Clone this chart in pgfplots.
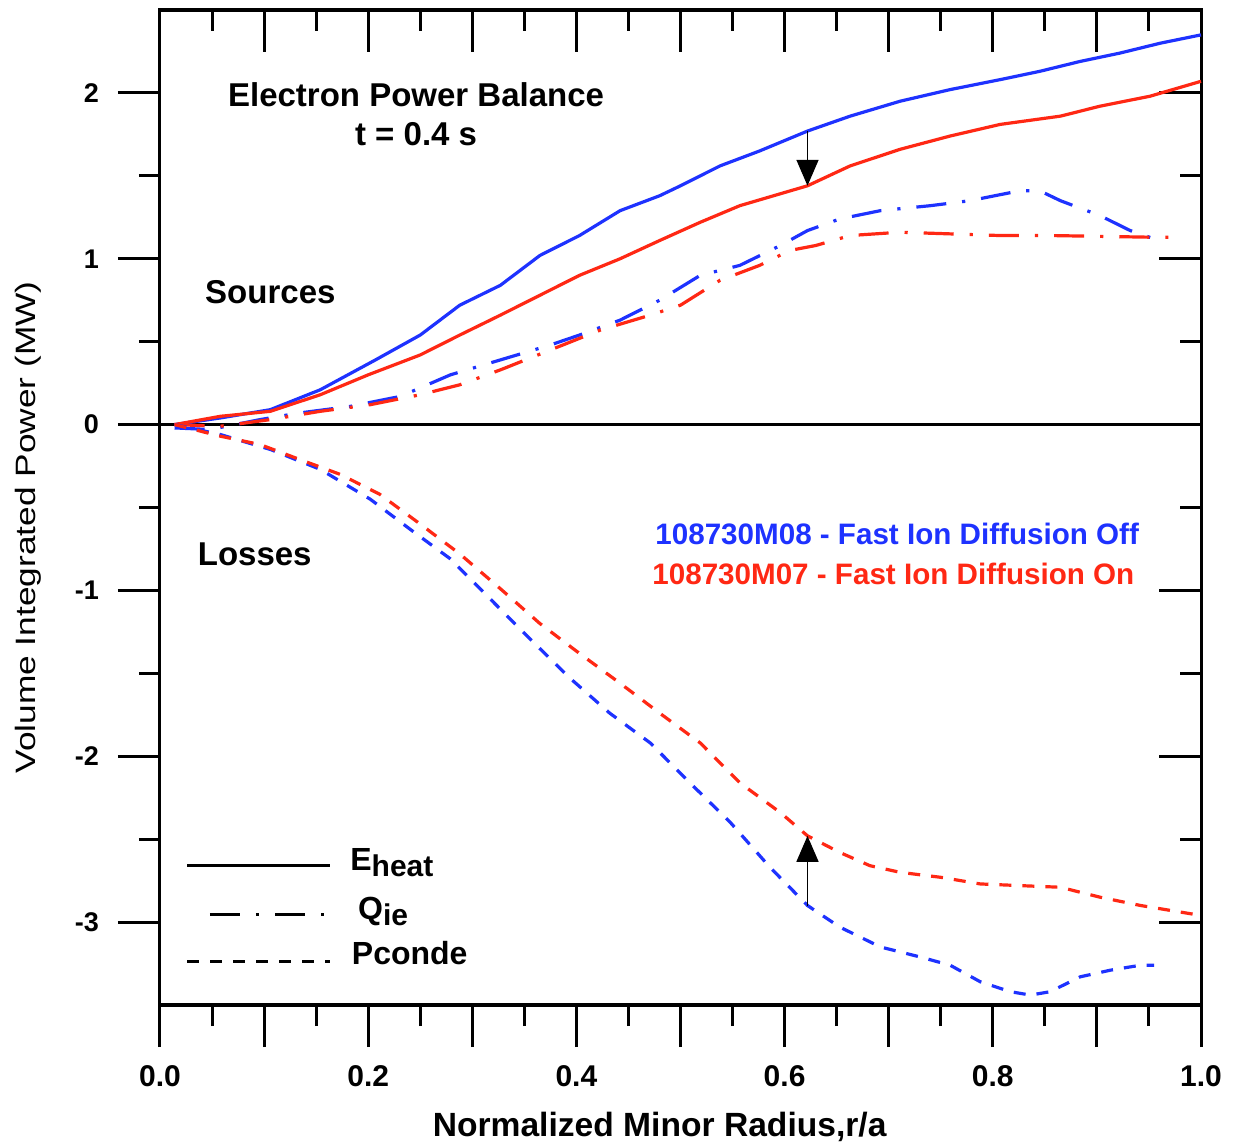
\documentclass[border=0pt]{standalone}
\usepackage{pgfplots}
\pgfplotsset{compat=1.18}
\usepackage{fontspec}
\setmainfont{Liberation Sans}
\usetikzlibrary{arrows.meta}

\definecolor{offblue}{RGB}{30,50,255}
\definecolor{onred}{RGB}{255,40,20}

\tikzset{
  pcond/.style={line width=1.6pt, dash pattern=on 6pt off 5.5pt},
  qie/.style={line width=1.6pt, dash pattern=on 15pt off 8pt on 1.6pt off 8pt},
  eheat/.style={line width=1.6pt},
}

\pgfplotsset{
  frame/.style={
    scale only axis, width=520.5pt, height=497.5pt,
    at={(0,0)}, anchor=south west,
    xmin=0, xmax=1, ymin=-3.5, ymax=2.5,
    xtick={0,0.1,0.2,0.3,0.4,0.5,0.6,0.7,0.8,0.9,1.0},
    ytick={-3,-2,-1,0,1,2},
    minor x tick num=1, minor y tick num=1,
    major tick length=21pt, minor tick length=10.5pt,
    every tick/.style={black, line width=1.5pt},
    axis line style={line width=1.5pt},
  },
}

\begin{document}
\begin{tikzpicture}
\useasboundingbox (-80pt,-71pt) rectangle (536.5pt,502.5pt);

% ticks on top and right, pointing into the plot
\begin{axis}[frame, tick align=inside, xtick pos=upper, ytick pos=right,
  xticklabels={}, yticklabels={}]
\end{axis}

\begin{axis}[frame, tick align=outside, xtick pos=lower, ytick pos=left,
  xticklabels={0.0,,0.2,,0.4,,0.6,,0.8,,1.0},
  yticklabels={-3,-2,-1,0,1,2},
  xticklabel style={font=\fontsize{15}{17}\selectfont\bfseries, yshift=-5.5pt},
  yticklabel style={font=\fontsize{13.5}{15}\selectfont\bfseries, xshift=-6pt},
  clip=false]

% zero line
\addplot[black, line width=1.5pt] coordinates {(0,0) (1,0)};

% E_heat, fast ion diffusion off
\addplot[offblue, eheat] coordinates {
(0.014,0.00) (0.058,0.04) (0.106,0.09) (0.154,0.21) (0.207,0.39) (0.250,0.54)
(0.288,0.72) (0.327,0.84) (0.365,1.02) (0.403,1.14) (0.442,1.29) (0.480,1.38)
(0.500,1.44) (0.538,1.56) (0.576,1.65) (0.622,1.77) (0.663,1.86) (0.711,1.95)
(0.759,2.02) (0.807,2.08) (0.845,2.13) (0.884,2.19) (0.922,2.24) (0.961,2.30)
(1.000,2.35)};

% E_heat, fast ion diffusion on
\addplot[onred, eheat] coordinates {
(0.014,0.00) (0.058,0.05) (0.106,0.08) (0.154,0.18) (0.200,0.30) (0.250,0.42)
(0.288,0.54) (0.327,0.66) (0.365,0.78) (0.403,0.90) (0.442,1.00) (0.480,1.11)
(0.519,1.22) (0.557,1.32) (0.622,1.44) (0.663,1.56) (0.711,1.66) (0.759,1.74)
(0.807,1.81) (0.865,1.86) (0.903,1.92) (0.951,1.98) (1.000,2.07)};

% Q_ie, off
\addplot[offblue, qie] coordinates {
(0.014,-0.02) (0.048,-0.03) (0.096,0.03) (0.134,0.07) (0.183,0.11) (0.231,0.17)
(0.279,0.30) (0.327,0.39) (0.375,0.48) (0.403,0.54) (0.442,0.63) (0.480,0.75)
(0.519,0.90) (0.557,0.96) (0.596,1.08) (0.622,1.17) (0.653,1.24) (0.692,1.29)
(0.740,1.32) (0.778,1.35) (0.826,1.41) (0.845,1.41) (0.865,1.35) (0.903,1.26)
(0.932,1.17) (0.955,1.12)};

% Q_ie, on
\addplot[onred, qie] coordinates {
(0.014,0.00) (0.058,-0.01) (0.106,0.03) (0.154,0.08) (0.202,0.12) (0.250,0.18)
(0.288,0.24) (0.327,0.33) (0.375,0.45) (0.423,0.57) (0.471,0.66) (0.500,0.72)
(0.538,0.87) (0.576,0.96) (0.605,1.05) (0.630,1.08) (0.663,1.14) (0.711,1.16)
(0.759,1.15) (0.807,1.14) (0.855,1.14) (0.903,1.135) (0.951,1.13) (0.980,1.13)};

% P_cond,e, off
\addplot[offblue, pcond] coordinates {
(0.014,0.00) (0.058,-0.06) (0.106,-0.15) (0.154,-0.27) (0.202,-0.45) (0.240,-0.63)
(0.279,-0.81) (0.317,-1.05) (0.355,-1.29) (0.394,-1.53) (0.432,-1.74) (0.471,-1.92)
(0.509,-2.16) (0.548,-2.40) (0.586,-2.67) (0.622,-2.90) (0.653,-3.03) (0.692,-3.15)
(0.730,-3.21) (0.759,-3.26) (0.788,-3.36) (0.817,-3.42) (0.836,-3.44) (0.855,-3.42)
(0.884,-3.33) (0.913,-3.29) (0.942,-3.26) (0.955,-3.26)};

% P_cond,e, on
\addplot[onred, pcond] coordinates {
(0.014,0.00) (0.058,-0.07) (0.096,-0.12) (0.134,-0.21) (0.173,-0.30) (0.211,-0.42)
(0.250,-0.60) (0.288,-0.78) (0.327,-0.99) (0.365,-1.20) (0.403,-1.38) (0.442,-1.56)
(0.480,-1.74) (0.519,-1.92) (0.557,-2.16) (0.596,-2.34) (0.622,-2.48) (0.653,-2.58)
(0.682,-2.66) (0.711,-2.70) (0.750,-2.73) (0.788,-2.77) (0.826,-2.78) (0.865,-2.79)
(0.903,-2.85) (0.942,-2.90) (0.971,-2.93) (1.000,-2.96)};

% arrows marking the change between the two runs
\draw[line width=0.8pt, -{Triangle[width=11pt,length=13pt]}]
  (axis cs:0.622,1.77) -- (axis cs:0.622,1.44);
\draw[line width=0.8pt, -{Triangle[width=11pt,length=13pt]}]
  (axis cs:0.622,-2.90) -- (axis cs:0.622,-2.48);

% annotations
\node[font=\fontsize{16.5}{19.5}\selectfont\bfseries, align=center] at (axis cs:0.246,1.87)
  {Electron Power Balance\\t = 0.4 s};
\node[font=\fontsize{16.5}{19}\selectfont\bfseries] at (axis cs:0.106,0.80) {Sources};
\node[font=\fontsize{16.5}{19}\selectfont\bfseries] at (axis cs:0.091,-0.78) {Losses};
\node[font=\fontsize{14.8}{17}\selectfont\bfseries, text=offblue, anchor=west, inner sep=0pt]
  at (axis cs:0.4755,-0.66) {108730M08 - Fast Ion Diffusion Off};
\node[font=\fontsize{14.8}{17}\selectfont\bfseries, text=onred, anchor=west, inner sep=0pt]
  at (axis cs:0.4726,-0.90) {108730M07 - Fast Ion Diffusion On};

% line-style key
\draw[eheat] (axis cs:0.026,-2.66) -- (axis cs:0.163,-2.66);
\draw[qie] (axis cs:0.048,-2.955) -- (axis cs:0.158,-2.955);
\draw[pcond] (axis cs:0.026,-3.237) -- (axis cs:0.163,-3.237);
\node[font=\fontsize{16}{19}\selectfont\bfseries, anchor=base west, inner sep=0pt]
  at (axis cs:0.1825,-2.69) {E\raisebox{-0.35ex}{\fontsize{15}{18}\selectfont heat}};
\node[font=\fontsize{16}{19}\selectfont\bfseries, anchor=base west, inner sep=0pt]
  at (axis cs:0.190,-2.985) {Q\raisebox{-0.35ex}{\fontsize{15}{18}\selectfont ie}};
\node[font=\fontsize{16}{19}\selectfont\bfseries, anchor=base west, inner sep=0pt]
  at (axis cs:0.184,-3.255) {Pconde};

% axis titles
\node[font=\fontsize{16.8}{19}\selectfont\bfseries] at ([yshift=-61pt]rel axis cs:0.48,0)
  {Normalized Minor Radius,r/a};
\node[rotate=90] at ([xshift=-66pt]rel axis cs:0,0.48)
  {\scalebox{1.26}[1]{\fontsize{14}{16}\selectfont Volume Integrated Power (MW)}};
\end{axis}
\end{tikzpicture}
\end{document}
